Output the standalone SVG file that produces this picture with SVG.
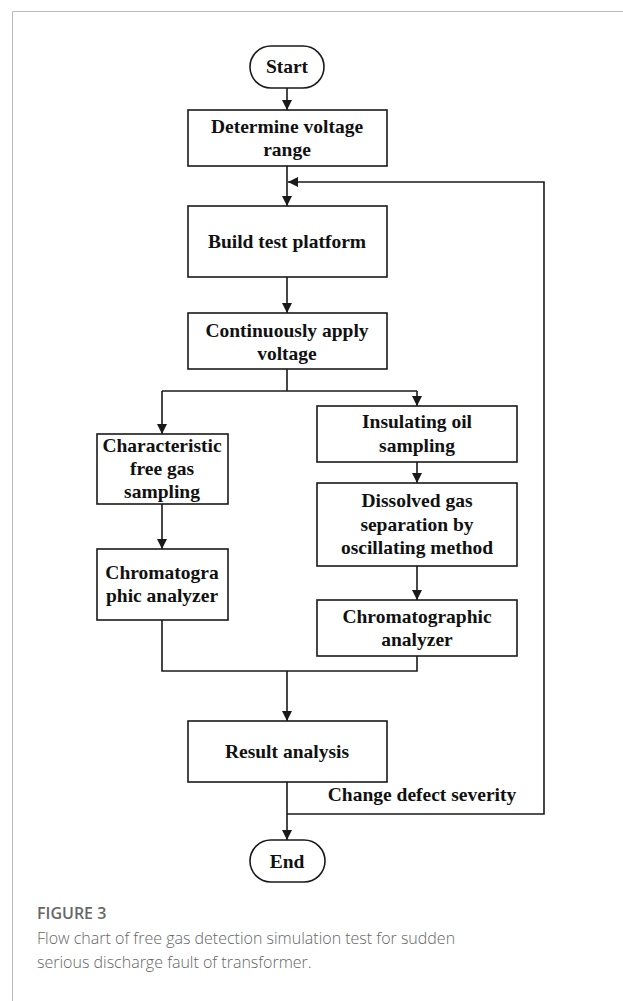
<svg xmlns="http://www.w3.org/2000/svg" width="623" height="1001" viewBox="0 0 623 1001">
<style>
.box{fill:#fff;stroke:#1a1a1a;stroke-width:1.6}
.t{font-family:"Liberation Serif","Times New Roman",serif;font-weight:bold;font-size:19.5px;fill:#111;text-anchor:middle}
.c{fill:none;stroke:#1a1a1a;stroke-width:1.6}
.cap{font-family:"Open Sans","Noto Sans",sans-serif;fill:#666}
</style>
<defs>
<marker id="ah" viewBox="0 0 10 10" refX="10" refY="5" markerWidth="10" markerHeight="10" markerUnits="userSpaceOnUse" orient="auto">
<path d="M0,0 L10,5 L0,10 Z" fill="#1a1a1a"/>
</marker>
</defs>
<rect width="623" height="1001" fill="#fff"/>
<path d="M12.5,1001 V11.5 H623" fill="none" stroke="#bbb" stroke-width="1"/>
<g id="connectors">
<path class="c" d="M287,88 V110" marker-end="url(#ah)"/>
<path class="c" d="M287,166 V206" marker-end="url(#ah)"/>
<path class="c" d="M287,277 V313" marker-end="url(#ah)"/>
<path class="c" d="M287,369 V391"/>
<path class="c" d="M162,391 H417"/>
<path class="c" d="M162,391 V434" marker-end="url(#ah)"/>
<path class="c" d="M417,391 V406" marker-end="url(#ah)"/>
<path class="c" d="M417,462 V483" marker-end="url(#ah)"/>
<path class="c" d="M417,566 V600" marker-end="url(#ah)"/>
<path class="c" d="M162,504 V549" marker-end="url(#ah)"/>
<path class="c" d="M162,620 V671 H417 V656"/>
<path class="c" d="M287,671 V721" marker-end="url(#ah)"/>
<path class="c" d="M287,782 V840" marker-end="url(#ah)"/>
<path class="c" d="M287,814 H544 V182 H288" marker-end="url(#ah)"/>
<text class="t" x="422" y="801" text-anchor="middle">Change defect severity</text>
</g>
<g id="start">
<rect class="box" x="250" y="46" width="74" height="42" rx="21"/>
<text class="t" x="287" y="73">Start</text>
</g>
<g id="determine">
<rect class="box" x="188" y="110" width="199" height="56"/>
<text class="t" x="287" y="133">Determine voltage</text>
<text class="t" x="287" y="156">range</text>
</g>
<g id="build">
<rect class="box" x="188" y="206" width="199" height="71"/>
<text class="t" x="287" y="248">Build test platform</text>
</g>
<g id="apply">
<rect class="box" x="188" y="313" width="199" height="56"/>
<text class="t" x="287" y="337">Continuously apply</text>
<text class="t" x="287" y="360">voltage</text>
</g>
<g id="free-gas">
<rect class="box" x="97" y="434" width="131" height="70"/>
<text class="t" x="162" y="452">Characteristic</text>
<text class="t" x="162" y="475">free gas</text>
<text class="t" x="162" y="498">sampling</text>
</g>
<g id="chrom-left">
<rect class="box" x="97" y="549" width="131" height="71"/>
<text class="t" x="162" y="579">Chromatogra</text>
<text class="t" x="162" y="602">phic analyzer</text>
</g>
<g id="oil">
<rect class="box" x="317" y="406" width="200" height="56"/>
<text class="t" x="417" y="428">Insulating oil</text>
<text class="t" x="417" y="452">sampling</text>
</g>
<g id="dissolved">
<rect class="box" x="317" y="483" width="200" height="83"/>
<text class="t" x="417" y="507">Dissolved gas</text>
<text class="t" x="417" y="531">separation by</text>
<text class="t" x="417" y="554">oscillating method</text>
</g>
<g id="chrom-right">
<rect class="box" x="317" y="600" width="200" height="56"/>
<text class="t" x="417" y="623">Chromatographic</text>
<text class="t" x="417" y="646">analyzer</text>
</g>
<g id="result">
<rect class="box" x="188" y="721" width="199" height="61"/>
<text class="t" x="287" y="758">Result analysis</text>
</g>
<g id="end">
<rect class="box" x="250" y="840" width="75" height="42" rx="21"/>
<text class="t" x="287" y="868">End</text>
</g>
<g id="caption">
<text class="cap" x="37" y="919" font-size="16" font-weight="600" fill="#666">FIGURE 3</text>
<text class="cap" x="37" y="944" font-size="16" font-weight="300">Flow chart of free gas detection simulation test for sudden</text>
<text class="cap" x="37" y="968" font-size="16" font-weight="300">serious discharge fault of transformer.</text>
</g>
</svg>
